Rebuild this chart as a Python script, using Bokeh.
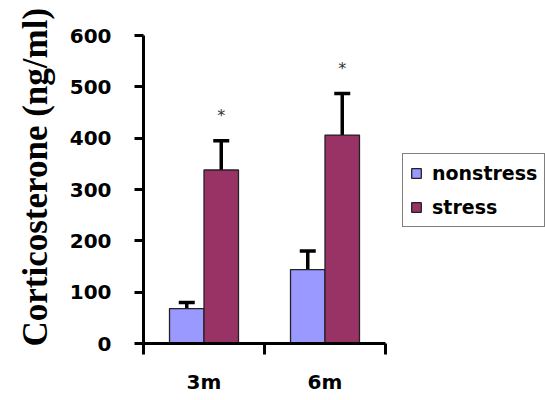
from bokeh.plotting import figure
from bokeh.models import (ColumnDataSource, Range1d, FixedTicker, LinearAxis,
                          Whisker, TeeHead, Legend, LegendItem, Title)
from bokeh.core.properties import value
from bokeh.embed import file_html
from bokeh.resources import INLINE

categories = ["3m", "6m"]
nonstress = [68, 144]
nonstress_err = [12, 36]
stress = [338, 406]
stress_err = [57, 81]
y_ticks = [0, 100, 200, 300, 400, 500, 600]
y_label = "Corticosterone (ng/ml)"

C_NS = "#9999FF"
C_S = "#993366"
W = 0.285
OFF = 0.1425

centers = [i + 0.5 for i in range(len(categories))]
src_ns = ColumnDataSource(dict(
    x=[c - OFF for c in centers], top=nonstress,
    upper=[v + e for v, e in zip(nonstress, nonstress_err)]))
src_s = ColumnDataSource(dict(
    x=[c + OFF for c in centers], top=stress,
    upper=[v + e for v, e in zip(stress, stress_err)],
    star=["*"] * len(categories)))

p = figure(width=545, height=400, output_backend="svg", toolbar_location=None,
           x_range=Range1d(0, 402 / 121.0), y_range=Range1d(0, 600),
           x_axis_type=None, y_axis_type=None,
           min_border_left=143, min_border_right=0,
           min_border_top=35, min_border_bottom=57)
p.outline_line_color = None
p.xgrid.grid_line_color = None
p.ygrid.grid_line_color = None
p.background_fill_color = "white"

r_ns = p.vbar(x="x", top="top", width=W, bottom=0, source=src_ns,
              fill_color=C_NS, line_color="#222222", line_width=1.3)
r_s = p.vbar(x="x", top="top", width=W, bottom=0, source=src_s,
             fill_color=C_S, line_color="#222222", line_width=1.3)

for src in (src_ns, src_s):
    wk = Whisker(base="x", lower="top", upper="upper", source=src,
                 line_color="black", line_width=3.5, lower_head=None,
                 upper_head=TeeHead(size=16, line_width=3.5, line_color="black"))
    p.add_layout(wk)

p.text(x="x", y="upper", text="star", source=src_s, y_offset=-25,
       text_align="center", text_baseline="middle", text_color="#333333",
       text_font=value("DejaVu Sans"), text_font_size="16px")

# y axis
ya = LinearAxis(ticker=FixedTicker(ticks=y_ticks, minor_ticks=[]))
ya.axis_line_width = 3
ya.major_tick_line_width = 3
ya.major_tick_out = 9
ya.major_tick_in = 0
ya.minor_tick_out = 0
ya.major_label_text_font = "DejaVu Sans"
ya.major_label_text_font_style = "bold"
ya.major_label_text_font_size = "20px"
ya.major_label_text_color = "black"
ya.major_label_standoff = 23
p.add_layout(ya, "left")

ttl = Title(text=y_label, align="left", offset=-3, standoff=24,
            text_font="Liberation Serif", text_font_style="bold",
            text_font_size="35px", text_color="black")
p.add_layout(ttl, "left")

# x axis
xa = LinearAxis(ticker=FixedTicker(ticks=centers, minor_ticks=[0, 1, 2]),
                bounds=(0, 2))
xa.major_label_overrides = {c: lab for c, lab in zip(centers, categories)}
xa.axis_line_width = 3
xa.major_tick_out = 0
xa.major_tick_in = 0
xa.minor_tick_line_width = 3
xa.minor_tick_out = 11
xa.minor_tick_in = 0
xa.major_label_text_font = "DejaVu Sans"
xa.major_label_text_font_style = "bold"
xa.major_label_text_font_size = "20px"
xa.major_label_text_color = "black"
xa.major_label_standoff = 15
p.add_layout(xa, "below")

legend = Legend(items=[LegendItem(label="nonstress", renderers=[r_ns]),
                       LegendItem(label="stress", renderers=[r_s])],
                location=(259, 116), orientation="vertical",
                glyph_width=12, glyph_height=12, label_standoff=10,
                label_height=24, spacing=10, padding=7, margin=0,
                border_line_color="black", border_line_width=1.5,
                label_text_font="DejaVu Sans", label_text_font_style="bold",
                label_text_font_size="19px", label_text_color="black",
                background_fill_color="white")
p.add_layout(legend, "center")

open("out.html", "w").write(file_html(p, INLINE))
